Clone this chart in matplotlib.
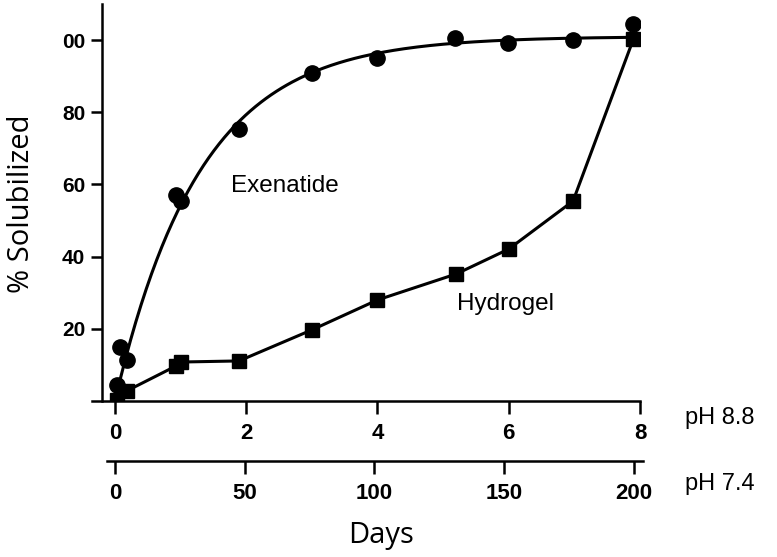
import numpy as np
import matplotlib
matplotlib.use("Agg")
import matplotlib.pyplot as plt

# Exenatide release (pH 8.8 days)
exe_days = [0.03, 0.08, 0.18, 0.93, 1.0, 1.89, 3.0, 3.99, 5.18, 5.99, 6.98, 7.9]
exe_pct = [4.4, 15.0, 11.4, 57.0, 55.4, 75.3, 90.8, 95.0, 100.5, 99.2, 100.0, 104.4]

# Hydrogel solubilized (pH 8.8 days)
gel_days = [0.03, 0.18, 0.93, 1.0, 1.89, 3.0, 4.0, 5.2, 6.0, 6.98, 7.9]
gel_pct = [0.3, 2.8, 9.7, 10.8, 11.1, 19.7, 28.0, 35.2, 42.1, 55.4, 100.3]

# first-order fit drawn through the exenatide points
fit_plateau = 101.0
fit_rate = 0.77

top_ticks = [0, 2, 4, 6, 8]
bottom_ticks = [0, 50, 100, 150, 200]
y_ticks = [20, 40, 60, 80, 100]
y_labels = ['20', '40', '60', '80', '00']

W, H = 777, 557
fig = plt.figure(figsize=(W / 100, H / 100), dpi=100)

def fx(px):
    return px / W

def fy(py):
    return 1 - py / H

ax = fig.add_axes([fx(92), fy(401), fx(640) - fx(92), fy(4) - fy(401)])
ax.set_xlim(-0.35, 8.0)
ax.set_ylim(0, 110)

t = np.linspace(0, 7.9, 200)
ax.plot(t, fit_plateau * (1 - np.exp(-fit_rate * t)), color='black', lw=2.2, zorder=2)
ax.plot(gel_days, gel_pct, color='black', lw=2.2, zorder=2)
ax.plot(exe_days, exe_pct, ls='none', marker='o', ms=11, color='black', zorder=3)
ax.plot(gel_days, gel_pct, ls='none', marker='s', ms=10.5, color='black', zorder=3)

for s in ['top', 'right']:
    ax.spines[s].set_visible(False)
ax.spines['left'].set_position(('data', -0.2))
ax.spines['left'].set_linewidth(1.8)
ax.spines['bottom'].set_linewidth(1.8)

ax.set_xticks(top_ticks)
ax.set_xticklabels([str(v) for v in top_ticks])
ax.set_yticks(y_ticks)
ax.set_yticklabels(y_labels)
ax.tick_params(axis='x', length=9, width=1.8, pad=7, labelsize=16)
ax.tick_params(axis='y', length=8, width=1.8, pad=4, labelsize=15)
for lab in ax.get_xticklabels() + ax.get_yticklabels():
    lab.set_fontweight('bold')
    lab.set_fontfamily('Liberation Sans')

ax.text(2.59, 59.6, 'Exenatide', fontsize=17.5, family='Liberation Sans',
        ha='center', va='center')
ax.text(5.95, 26.9, 'Hydrogel', fontsize=17.5, family='Liberation Sans',
        ha='center', va='center')

# second day axis for pH 7.4
ax2 = fig.add_axes([fx(107), fy(461), fx(643) - fx(107), 0.0001])
ax2.set_facecolor('none')
for s in ['top', 'right', 'left']:
    ax2.spines[s].set_visible(False)
ax2.spines['bottom'].set_linewidth(1.8)
ax2.set_xlim(-3.08, 203.5)
ax2.set_yticks([])
ax2.set_xticks(bottom_ticks)
ax2.set_xticklabels([str(v) for v in bottom_ticks])
ax2.tick_params(axis='x', length=9, width=1.8, pad=7, labelsize=16)
for lab in ax2.get_xticklabels():
    lab.set_fontweight('bold')
    lab.set_fontfamily('Liberation Sans')

fig.text(fx(685), fy(418), 'pH 8.8', fontsize=17, family='Liberation Sans',
         ha='left', va='center')
fig.text(fx(685), fy(484), 'pH 7.4', fontsize=17, family='Liberation Sans',
         ha='left', va='center')
fig.text(fx(381), fy(536), 'Days', fontsize=21, family='Open Sans',
         ha='center', va='center')
fig.text(fx(22), fy(204), '% Solubilized', fontsize=21, family='Open Sans',
         ha='center', va='center', rotation=90)

fig.savefig('out.png', dpi=100)
